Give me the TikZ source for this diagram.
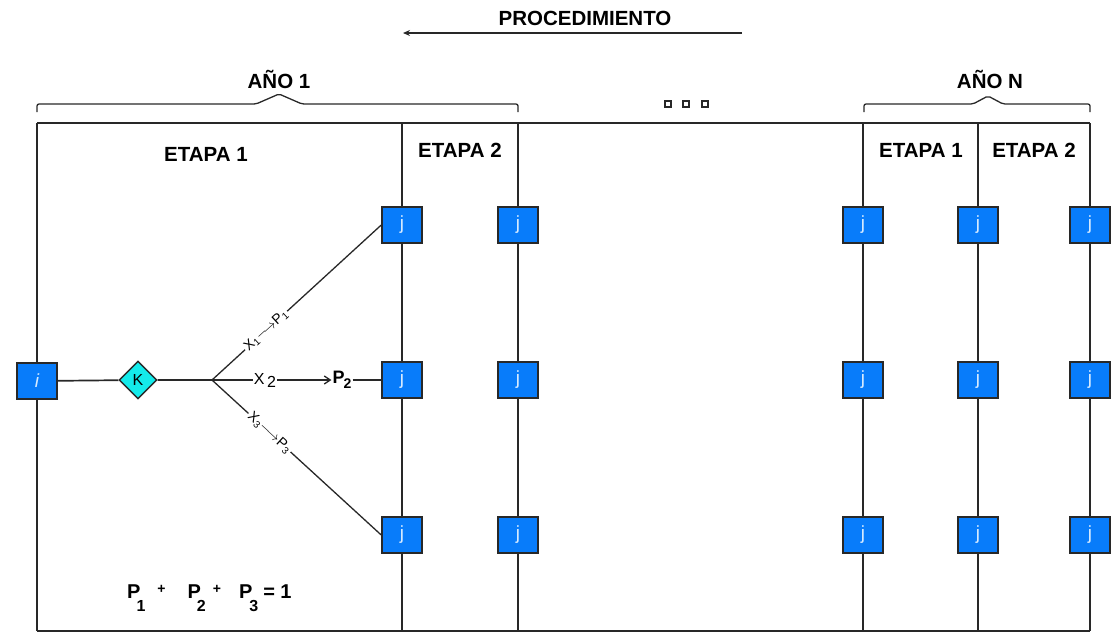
\documentclass[tikz,border=0pt]{standalone}
\usepackage{fontspec}
\setmainfont{Liberation Sans}
\usetikzlibrary{arrows.meta,shapes.geometric}
\definecolor{boxblue}{RGB}{8,124,250}
\definecolor{kcyan}{RGB}{20,235,235}
\definecolor{ln}{RGB}{40,40,40}
\definecolor{jtext}{RGB}{215,235,255}
\begin{document}
\begin{tikzpicture}[x=1pt,y=-1pt,
  jbox/.style={draw=ln,line width=1.5pt,fill=boxblue,minimum width=40pt,minimum height=36pt,inner sep=0pt,text=jtext,font=\fontsize{19}{19}\selectfont},
  kdia/.style={diamond,draw=ln,line width=1.4pt,fill=kcyan,minimum width=38pt,minimum height=38pt,inner sep=0pt,font=\fontsize{16}{16}\selectfont},
  conn/.style={draw=ln,line width=1.7pt},
  thin/.style={draw=ln,line width=1.3pt},
  hdr/.style={font=\bfseries\fontsize{20.5}{20.5}\selectfont,inner sep=0pt},
  lbl/.style={font=\fontsize{14}{14}\selectfont,inner sep=1.5pt,fill=white},
]
\useasboundingbox (0,0) rectangle (1115,641);
% header
\node[hdr] (proc) at (585,18) {PROCEDIMIENTO};
\coordinate (arrS) at (742,33);
\coordinate (arrE) at (403,33);
\draw[thin,-{Stealth[length=7pt,width=6pt]}] (arrS) -- (arrE);
\node[hdr] (ano1) at (279,79) {AÑO 1};
\node[hdr] (anon) at (990,79) {AÑO N};
\draw[thin,rounded corners=2pt] (37,112) -- (37,104) -- (256,104) -- (279,94) -- (302,104) -- (518,104) -- (518,112);
\draw[thin,rounded corners=2pt] (864,112) -- (864,104) -- (973,104) -- (988,96) -- (1003,104) -- (1090,104) -- (1090,112);
\foreach \x in {668,686,705} \draw[line width=1.2pt,draw=ln,fill=white] (\x-3,101) rectangle (\x+3,107);
% stage labels
\node[hdr] (e11) at (206,154) {ETAPA 1};
\node[hdr] (e12) at (460,150) {ETAPA 2};
\node[hdr] (eN1) at (921,150) {ETAPA 1};
\node[hdr] (eN2) at (1034,150) {ETAPA 2};
% columns
\foreach \c/\x in {a/402,b/518,c/863,d/978,e/1090}{
  \coordinate (\c-top) at (\x,123);
  \coordinate (\c-bot) at (\x,631);
  \foreach \r/\y in {1/225,2/380,3/535} \node[jbox] (\c\r) at (\x,\y) {j};
  \draw[conn] (\c-top) -- (\c1) -- (\c2) -- (\c3) -- (\c-bot);
}
% left column
\coordinate (l-top) at (37,123);
\coordinate (l-bot) at (37,631);
\node[jbox,font=\itshape\fontsize{19}{19}\selectfont] (i) at (37,381) {i};
\draw[conn] (l-top) -- (i) -- (l-bot);
\draw[conn] (l-top) -- (e-top);
\draw[conn] (l-bot) -- (e-bot);
% decision
\node[kdia] (k) at (138,380) {K};
\coordinate (br) at (212,380);
\draw[conn] (i) -- (k) -- (br);
\draw[thin] (br) -- node[lbl,sloped,pos=0.32]{X\textsubscript{1}$\longrightarrow$P\textsubscript{1}} (a1.west);
\draw[thin] (br) -- node[lbl,sloped,pos=0.34]{X\textsubscript{3}$\longrightarrow$P\textsubscript{3}} (a3.west);
\node[font=\fontsize{16}{16}\selectfont,inner sep=1pt] (x2) at (265,380) {X\,\raisebox{-3pt}{2}};
\node[font=\bfseries\fontsize{18}{18}\selectfont,inner sep=1pt] (p2) at (342,380) {P\kern-1pt\raisebox{-5pt}{\fontsize{14}{14}\selectfont 2}};
\draw[thin] (br) -- (x2);
\draw[thin,-{Straight Barb[length=6pt,width=8pt]}] (x2) -- (p2);
\draw[thin] (p2) -- (a2);
% formula
\node[font=\bfseries\fontsize{20}{20}\selectfont,anchor=base west,inner sep=0pt] (sum) at (127,598)
 {P\kern-4pt\raisebox{-13pt}{\fontsize{16}{16}\selectfont 1}\kern12pt\raisebox{5pt}{\fontsize{14}{14}\selectfont +}\kern22pt P\kern-4pt\raisebox{-13pt}{\fontsize{16}{16}\selectfont 2}\kern7pt\raisebox{5pt}{\fontsize{14}{14}\selectfont +}\kern18pt P\kern-3pt\raisebox{-13pt}{\fontsize{16}{16}\selectfont 3}\kern5pt= 1};
\end{tikzpicture}
\end{document}
